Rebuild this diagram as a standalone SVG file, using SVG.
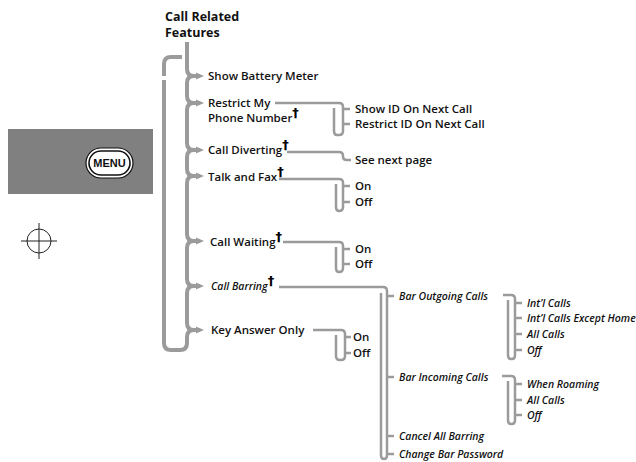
<svg xmlns="http://www.w3.org/2000/svg" width="636" height="462" viewBox="0 0 636 462">
<style>
.ln{fill:none;stroke:#9b9b9b;stroke-linecap:butt;stroke-linejoin:round}
.main{stroke-width:4}
.sub{stroke-width:2.5}
.tip{fill:#9b9b9b}
.t{font-family:"Open Sans","Liberation Sans",sans-serif;font-weight:600;font-size:11.5px;fill:#111}
.h{font-family:"Open Sans","Liberation Sans",sans-serif;font-weight:700;font-size:12.5px;fill:#111}
.i{font-family:"Open Sans","Liberation Sans",sans-serif;font-weight:600;font-style:italic;font-size:10.5px;fill:#111}
.dg{font-family:"DejaVu Sans",sans-serif;font-weight:700;font-style:normal;font-size:13px;fill:#000}
</style>
<g id="menu-panel">
<rect x="8" y="129" width="145" height="65" fill="#808080"/>
<rect x="86" y="148" width="47" height="30" rx="15" fill="#fff" stroke="#111" stroke-width="1.2"/>
<rect x="89" y="151" width="41" height="24" rx="12" fill="#fff" stroke="#111" stroke-width="1.6"/>
<text x="109.5" y="167" text-anchor="middle" font-family="Liberation Sans,sans-serif" font-weight="700" font-size="11" fill="#111">MENU</text>
</g>
<g id="crosshair" fill="none" stroke="#222" stroke-width="1">
<circle cx="39" cy="241" r="12"/>
<line x1="21" y1="241" x2="57" y2="241"/>
<line x1="39" y1="223" x2="39" y2="259"/>
</g>
<g id="connectors">
<path class="ln main" d="M187,42 V69 Q187,76 194,76 H200 M187,83 V96 Q187,103 194,103 H200 M187,110 V143 Q187,150 194,150 H200 M187,157 V169 Q187,176 194,176 H200 M187,183 V234 Q187,241 194,241 H200 M187,248 V279 Q187,286 194,286 H200 M187,293 V323 Q187,330 194,330 H200 M187,337 V343 Q187,350 180,350 H171 Q164,350 164,343 V80 M164,76 V64 Q164,57 171,57 H182"/>
<path class="ln main" d="M187,83 Q187,76 194,76 M187,110 Q187,103 194,103 M187,157 Q187,150 194,150 M187,183 Q187,176 194,176 M187,248 Q187,241 194,241 M187,293 Q187,286 194,286 M187,337 Q187,330 194,330"/>
<g class="tip">
<polygon points="196,72.5 204,76 196,79.5"/>
<polygon points="196,99.5 204,103 196,106.5"/>
<polygon points="196,146.5 204,150 196,153.5"/>
<polygon points="196,172.5 204,176 196,179.5"/>
<polygon points="196,237.5 204,241 196,244.5"/>
<polygon points="196,282.5 204,286 196,289.5"/>
<polygon points="196,326.5 204,330 196,333.5"/>
</g>
<path class="ln sub" d="M275,103 H339 Q343,103 343,107 V131 Q343,135 339,135 H337 Q334,135 334,131 V108 M343,109 H350 M343,124 H350"/>
<path class="ln sub" d="M287,152 H339 Q343,152 343,156 V157 Q343,160 347,160 H351"/>
<path class="ln sub" d="M279,179 H339 Q343,179 343,183 V207 Q343,211 339,211 H339 Q336,211 336,207 V184 M343,186 H350 M343,202 H350"/>
<path class="ln sub" d="M283,242 H339 Q343,242 343,246 V268 Q343,272 339,272 H339 Q336,272 336,268 V247 M343,249 H350 M343,264 H350"/>
<path class="ln sub" d="M313,330 H341 Q345,330 345,334 V356 Q345,360 341,360 H340 Q336,360 336,356 V335 M345,337 H351 M345,353 H351"/>
<path class="ln sub" d="M279,287 H383 Q387,287 387,291 V455 Q387,459 384,459 H384 Q381,459 381,455 V293 M387,296 H394 M387,377 H394 M387,436 H394 M387,454 H394"/>
<path class="ln sub" d="M503,295 H511 Q515,295 515,299 V355 Q515,359 512,359 H511 Q508,359 508,355 V300 M515,303 H522 M515,318 H522 M515,334 H522 M515,350 H522"/>
<path class="ln sub" d="M502,376 H511 Q515,376 515,380 V420 Q515,424 512,424 H511 Q508,424 508,420 V381 M515,384 H522 M515,400 H522 M515,415 H522"/>
</g>
<g id="n-root"><text class="h" x="165" y="21">Call Related</text><text class="h" x="165" y="37">Features</text></g>
<g id="n-battery"><text class="t" x="208" y="80">Show Battery Meter</text></g>
<g id="n-restrict"><text class="t" x="208" y="107">Restrict My</text><text class="t" x="208" y="122">Phone Number<tspan class="dg" dy="-5">†</tspan></text></g>
<g id="n-divert"><text class="t" x="208" y="154">Call Diverting<tspan class="dg" dy="-5">†</tspan></text></g>
<g id="n-fax"><text class="t" x="208" y="181">Talk and Fax<tspan class="dg" dy="-5">†</tspan></text></g>
<g id="n-wait"><text class="t" x="210" y="246">Call Waiting<tspan class="dg" dy="-5">†</tspan></text></g>
<g id="n-bar"><text class="i" x="211" y="290">Call Barring<tspan class="dg" dy="-5">†</tspan></text></g>
<g id="n-key"><text class="t" x="211" y="334">Key Answer Only</text></g>
<g id="n-showid"><text class="t" x="355" y="113">Show ID On Next Call</text></g>
<g id="n-restrictid"><text class="t" x="355" y="128">Restrict ID On Next Call</text></g>
<g id="n-seenext"><text class="t" x="355" y="164">See next page</text></g>
<g id="n-fax-on"><text class="t" x="355" y="190">On</text></g>
<g id="n-fax-off"><text class="t" x="355" y="206">Off</text></g>
<g id="n-wait-on"><text class="t" x="355" y="253">On</text></g>
<g id="n-wait-off"><text class="t" x="355" y="268">Off</text></g>
<g id="n-key-on"><text class="t" x="353" y="341">On</text></g>
<g id="n-key-off"><text class="t" x="353" y="357">Off</text></g>
<g id="n-barout"><text class="i" x="399" y="300">Bar Outgoing Calls</text></g>
<g id="n-barin"><text class="i" x="399" y="381">Bar Incoming Calls</text></g>
<g id="n-cancel"><text class="i" x="399" y="440">Cancel All Barring</text></g>
<g id="n-changepw"><text class="i" x="399" y="458">Change Bar Password</text></g>
<g id="n-intl"><text class="i" x="527" y="307">Int’l Calls</text></g>
<g id="n-intlhome"><text class="i" x="527" y="322">Int’l Calls Except Home</text></g>
<g id="n-allout"><text class="i" x="527" y="338">All Calls</text></g>
<g id="n-offout"><text class="i" x="527" y="354">Off</text></g>
<g id="n-roam"><text class="i" x="527" y="388">When Roaming</text></g>
<g id="n-allin"><text class="i" x="527" y="404">All Calls</text></g>
<g id="n-offin"><text class="i" x="527" y="419">Off</text></g>
</svg>
